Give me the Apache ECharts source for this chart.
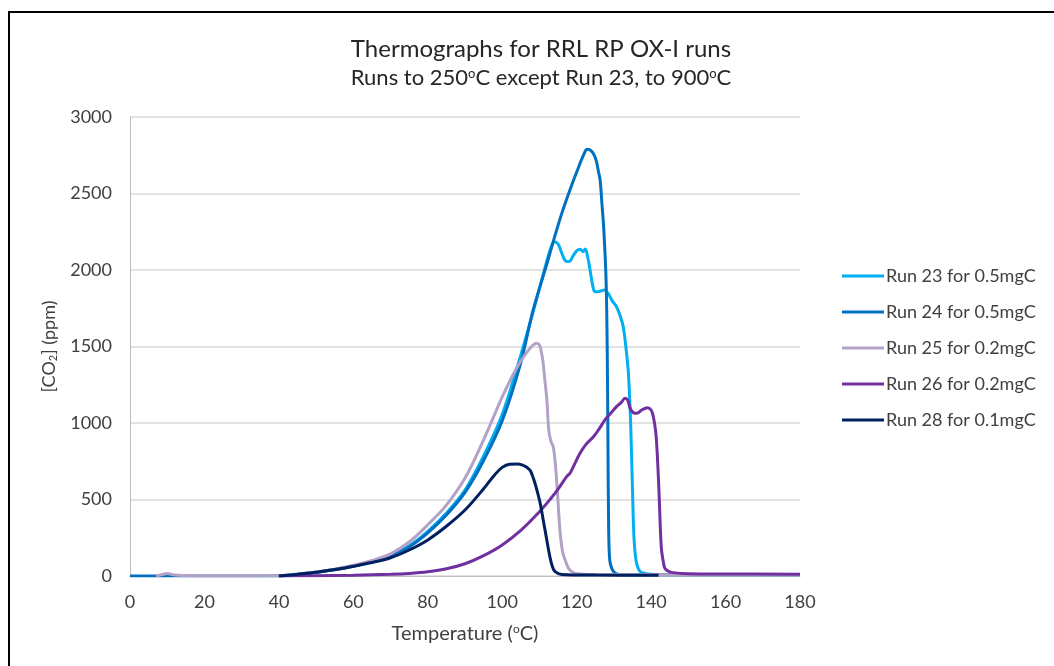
<!DOCTYPE html>
<html>
<head>
<meta charset="utf-8">
<script src="https://cdn.jsdelivr.net/npm/echarts@6/dist/echarts.min.js"></script>
<style>
html,body{margin:0;padding:0;background:#fff;}
#wrap{position:relative;width:1054px;height:666px;overflow:hidden;}
#chart{position:absolute;left:0;top:0;width:1054px;height:666px;}
#frame{position:absolute;left:8px;top:11px;width:1100px;height:700px;border-left:2px solid #000;border-top:2px solid #000;pointer-events:none;}
</style>
</head>
<body>
<div id="wrap"><div id="chart"></div><div id="frame"></div></div>
<script>
// ---- data: [temperature (°C), CO2 (ppm)] ----
const seriesNames = ['Run 23 for 0.5mgC','Run 24 for 0.5mgC','Run 25 for 0.2mgC','Run 26 for 0.2mgC','Run 28 for 0.1mgC'];
const xTicks = [0,20,40,60,80,100,120,140,160,180];
const yTicks = [0,500,1000,1500,2000,2500,3000];

const run23 = [[40,0],[45,12],[50,25],[55,42],[60,65],[65,95],[70,136],[75,197],[80,292],[85,412],[90,562],[95,785],[100,1055],[105,1445],[108,1700],[110,1880],[112,2060],[113,2140],[114,2185],[115,2170],[116,2110],[117,2060],[118,2055],[119,2090],[120,2125],[121,2135],[121.7,2120],[122.3,2137],[123,2080],[123.6,2000],[124.3,1900],[124.9,1858],[126,1860],[127.5,1869],[128.5,1845],[129.5,1800],[130.7,1760],[131.7,1700],[132.5,1630],[133.3,1480],[133.9,1325],[134.5,1000],[135,562],[135.4,250],[135.9,110],[136.6,45],[137.5,22],[140,12],[150,10],[180,10]];
const run24 = [[0,0],[40,0],[45,10],[50,23],[55,40],[60,63],[65,92],[70,131],[75,190],[80,282],[85,398],[90,546],[95,755],[100,1015],[105,1395],[108,1710],[110,1880],[112,2040],[114,2210],[116,2370],[118,2510],[120,2640],[122,2760],[122.8,2790],[123.6,2785],[124.4,2765],[125.2,2720],[125.8,2650],[126.3,2588],[126.8,2430],[127.3,2261],[127.9,1935],[128.2,1500],[128.4,900],[128.6,300],[128.9,100],[129.5,45],[130.3,20],[131.6,10],[140,8],[180,8]];
const run25 = [[7,0],[8,6],[9,12],[10,16],[11,12],[12,6],[14,3],[20,2],[30,2],[40,3],[45,13],[50,27],[55,45],[60,70],[65,101],[70,145],[75,222],[80,335],[85,463],[90,640],[95,890],[100,1170],[103,1320],[105,1405],[107,1475],[108.2,1508],[109.2,1521],[110,1510],[110.7,1440],[111,1390],[111.5,1270],[112,1150],[112.5,954],[113.1,880],[113.7,845],[114.2,750],[114.8,562],[115.5,300],[116.2,160],[116.9,105],[117.8,50],[118.7,28],[120,15],[125,10],[180,8]];
const run26 = [[40,0],[50,2],[60,5],[70,11],[75,17],[80,28],[85,47],[90,80],[95,133],[100,203],[105,298],[110,420],[113,505],[115,568],[117.3,649],[118.3,675],[119.5,735],[120.9,802],[122.5,860],[124.5,910],[126,960],[127.6,1020],[129.2,1065],[130.7,1107],[132,1135],[133,1161],[133.7,1150],[134.5,1090],[135.7,1063],[136.7,1070],[137.5,1085],[139,1100],[140,1085],[140.6,1041],[141.2,950],[141.6,820],[142.1,562],[142.5,300],[142.8,170],[143.3,90],[143.7,50],[144.7,30],[145.9,22],[150,15],[160,13],[180,12]];
const run28 = [[40,0],[45,12],[50,25],[55,42],[60,64],[65,88],[70,119],[75,170],[80,236],[85,325],[90,431],[95,570],[98,662],[100,710],[102,730],[104,732],[105.5,725],[106.5,712],[107.5,690],[108.2,650],[108.8,606],[109.5,545],[110.2,475],[111.5,300],[112.8,126],[113.5,60],[114.2,28],[116,10],[125,6],[142,5]];

const runData = [run23, run24, run25, run26, run28];
const colors = ['#00b0f0','#0070c0','#b3a2c7','#7030a0','#002060'];

const chart = echarts.init(document.getElementById('chart'), null, {renderer:'canvas'});
const FONT = 'Lato';
const TXT = '#404040';
const option = {
  backgroundColor: '#ffffff',
  animation: false,
  title: [
    {text: 'Thermographs for RRL RP OX-I runs', left: 536, top: 32, textAlign: 'center',
     textStyle: {fontFamily: FONT, fontSize: 24, fontWeight: 'normal', color: '#262626'}},
    {text: 'Runs to 250{sup|o}C except Run 23, to 900{sup|o}C', left: 536, top: 62, textAlign: 'center',
     textStyle: {fontFamily: FONT, fontSize: 22, fontWeight: 'normal', color: '#262626',
       rich: {sup: {fontFamily: FONT, fontSize: 13, color: '#262626', padding:[0,0,9,0]}}}}
  ],
  legend: {
    orient: 'vertical', left: 837, top: 262, itemWidth: 42, itemHeight: 3, itemGap: 18,
    icon: 'rect',
    textStyle: {fontFamily: FONT, fontSize: 18, lineHeight: 18, color: TXT, padding:[0,0,0,-3]},
    data: seriesNames
  },
  grid: {left: 130, right: 254, top: 117, bottom: 90, containLabel: false},
  xAxis: {
    type: 'value', min: 0, max: 180, interval: 20,
    name: 'Temperature ({sup|o}C)', nameLocation: 'middle', nameGap: 47,
    nameTextStyle: {fontFamily: FONT, fontSize: 20, color: TXT,
      rich: {sup: {fontFamily: FONT, fontSize: 12, color: TXT, padding:[0,0,9,0]}}},
    axisLine: {show: true, lineStyle: {color: '#bfbfbf', width: 1}},
    axisTick: {show: false},
    splitLine: {show: false},
    axisLabel: {fontFamily: FONT, fontSize: 18, color: TXT, margin: 17, formatter: v => String(v)}
  },
  yAxis: {
    type: 'value', min: 0, max: 3000, interval: 500,
    name: '[CO{sub|2}] (ppm)', nameLocation: 'middle', nameGap: 70, nameRotate: 90,
    nameTextStyle: {fontFamily: FONT, fontSize: 18, color: TXT,
      rich: {sub: {fontFamily: FONT, fontSize: 11, color: TXT, padding:[9,0,0,0]}}},
    axisLine: {show: true, lineStyle: {color: '#bfbfbf', width: 1}},
    axisTick: {show: false},
    splitLine: {show: true, lineStyle: {color: '#d9d9d9', width: 1.5}},
    axisLabel: {fontFamily: FONT, fontSize: 18, color: TXT, margin: 18, formatter: v => String(v)}
  },
  series: seriesNames.map((n, i) => ({
    name: n, type: 'line', data: runData[i], showSymbol: false, symbol: 'none',
    smooth: 0.35, z: 2 + i,
    lineStyle: {color: colors[i], width: 3}, itemStyle: {color: colors[i]}
  }))
};
chart.setOption(option);
</script>
</body>
</html>
